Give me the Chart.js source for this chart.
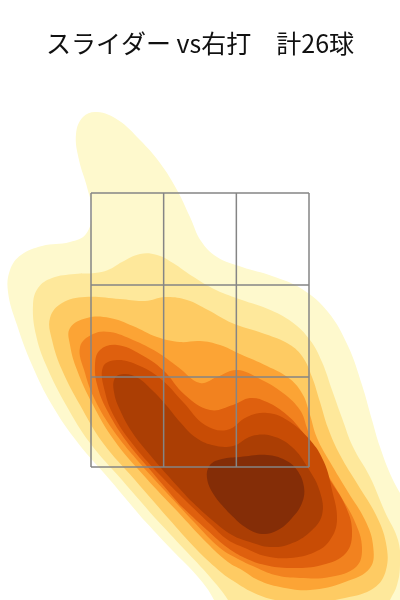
<!DOCTYPE html>
<html lang="ja">
<head>
<meta charset="utf-8">
<title>スライダー vs右打</title>
<script src="https://cdn.jsdelivr.net/npm/chart.js@4.4.1/dist/chart.umd.min.js"></script>
<style>
  html, body { margin: 0; padding: 0; background: #ffffff; }
  #wrap { width: 400px; height: 600px; }
</style>
</head>
<body>
<div id="wrap"><canvas id="kde" width="400" height="600"></canvas></div>
<script>
// ============================================
// DATA  (cm: x = from plate centre, y = height)
// ============================================

const chartTitle = 'スライダー vs右打　計26球';

// strike zone, split 3 x 3
const zoneX = [-21.8, -7.27, 7.27, 21.8];
const zoneY = [45, 63, 81.4, 99.8];

// density bands, light -> dark (YlOrBr)
const levelColors = ['#fef9cd', '#fee89b', '#fecb63', '#fca435', '#f2821f',
                     '#df600e', '#c84c05', '#ab3e04', '#842d07'];

// contour outlines, one closed ring per band
const level1 = [[-11.6,34.8],[-18,42.4],[-24.4,49.8],[-29.6,57.4],[-33.6,65.4],[-36.6,73.4],
  [-38.4,80],[-38,84.4],[-35.8,87.4],[-31.6,89.2],[-26,90],[-22.8,91.6],[-21.6,96],[-22.6,101],
  [-24.2,106.4],[-24.8,111.6],[-23.4,115],[-20.6,116],[-16.4,114.4],[-12,110.4],[-8,105.8],
  [-4.6,100.4],[-2,95],[0.2,90.2],[3.4,87],[8.4,85],[14.4,83.2],[20.4,80.6],[25.6,76],
  [29.6,69.2],[32.4,61.4],[34.4,54.4],[36,49],[38.4,42.8],[40.8,38.4],[45,30.4],[46,10.4],
  [6,10.4],[2.8,18.4],[-0.4,23],[-5.6,28.4]];

const level2 = [[-9,34.8],[-15.6,42.4],[-22,49.8],[-26.8,57.4],[-30.8,65.4],[-32.8,71.4],
  [-33.4,77.4],[-32.4,80.8],[-29.6,82.8],[-25,83.6],[-21,83.8],[-18.4,84.4],[-15.6,86],
  [-12,87.6],[-8.6,87.4],[-5.4,85.8],[-1.6,83.2],[3.2,80.4],[8.4,78.4],[13.6,76.6],[18.4,74],
  [22,70.4],[24.4,66],[26.4,60.4],[28.4,54.8],[30.6,49],[34,43],[37,36],[39.6,30.4],[40,25.4],
  [39.4,21.4],[38,18.4],[36,14.4],[10,10.4],[5.6,18.4],[2,23],[-3,28.4]];

const level3 = [[-6.4,34.8],[-13,42.4],[-19.4,49.8],[-24,57.4],[-27.6,64.4],[-29.6,70.4],
  [-30,74.8],[-27.6,77.8],[-23,79],[-16,78.6],[-11,78.2],[-7,79],[-2.6,78.4],[1.6,76.4],
  [6.4,73.8],[12.4,71.8],[17.4,69.8],[20.4,67.2],[22.4,63],[24,58],[25.6,52.8],[28,47.4],
  [31.6,41.4],[35.2,35.4],[37.2,29.8],[37.2,24.4],[34.8,20.8],[29,18.8],[21,17.8],[15,18.4],
  [10.4,20],[7,22],[4.4,23.8],[-0.6,28.4]];

const level4 = [[-4.4,36],[-10.8,42.8],[-17.2,50.4],[-21.6,57.8],[-24.6,64.4],[-26,69.4],
  [-26,72.8],[-22.6,74.8],[-18,74.8],[-13.4,73.2],[-8.6,71],[-4,70],[0,70.2],[4,69.4],
  [8,67.6],[13.4,65.2],[18,62.6],[20.6,59.4],[22,55.4],[23.4,50.8],[26,46],[29.6,40],
  [33,34.4],[34.6,29.4],[34,24.8],[29,22],[22,20.4],[16,21],[11.6,22.4],[8.4,24.4],
  [5.6,26],[1.4,29.8]];

const level5 = [[-6.8,40],[-12.6,46.4],[-17.4,52.4],[-21,58.4],[-23,63.8],[-24,69],
  [-21.4,71.6],[-18,72],[-13.4,70.4],[-8.6,68],[-4.4,65],[0,61.8],[3.4,63],[7.4,64.4],
  [12,62.6],[16.6,59.8],[20,56.4],[21.4,52.8],[22.6,48.8],[25,44.4],[28,39.4],[31,34],
  [32.4,28.8],[31.2,25],[26,23],[20,22.8],[15,23.4],[11,25],[8,26.4],[4,28.8],[-1,33.8]];

const level6 = [[-4,37.4],[-9.6,44],[-14.6,50],[-18.4,56],[-20.4,60.8],[-21,65.4],
  [-20,68.4],[-16.6,69.4],[-12,67.6],[-7.4,64.4],[-3,59.4],[2,56.4],[6.6,57.4],[10,58.8],
  [13.4,58],[17.4,55.4],[20.6,51.8],[23,47.4],[26,42.4],[29,37.4],[30.4,32.4],[29.2,27.8],
  [24.4,25.4],[18,24.8],[13,25.4],[9,26.8],[5.6,28.8],[1.4,32.4]];

const level7 = [[-3,38.4],[-8,43.4],[-13,49],[-17,54.8],[-19,60],[-19.4,65],[-16.6,66.4],
  [-12,65.2],[-7.6,62.4],[-3.4,58],[1,53.4],[5.4,52.4],[9.4,55],[13.4,55.8],[17.4,54.4],
  [22,50.4],[24.8,46],[26.4,40.4],[27.4,34.4],[26,30.4],[23,28],[18,26.8],[13,27.2],
  [9,28.8],[5.6,30.4],[2,33.6]];

const level8 = [[-2,38.4],[-6,42.8],[-10,47.4],[-13.6,52],[-16,56.4],[-17.2,60],[-17,62.8],
  [-15,63.6],[-12.4,62.8],[-9.6,60.4],[-6.8,57.4],[-4,54],[-1,51],[2.4,49.4],[6.6,49.2],
  [10.4,51.2],[14.4,51.2],[18.4,49],[21.6,44.8],[24,40],[24.4,35.4],[22,32],[18,29.6],
  [14,29],[10,30],[6.4,31.4],[2.4,34.4]];

const level9 = [[5.6,36],[2.8,39.4],[1.4,42.8],[2,45.4],[4.4,46.6],[8,47],[13.4,47.4],
  [17,46.4],[19.4,44.4],[20.8,41],[20.4,37.8],[18.4,34.8],[15.6,32.4],[12.4,31.6],[9,33]];

const levels = [level1, level2, level3, level4, level5, level6, level7, level8, level9];


// ============================================
// DATASETS
// ============================================

const datasets = [];

// filled bands: light one at the bottom, darkest on top
levels.forEach((ring, i) => {
    datasets.push({
        label: 'band ' + (i + 1),
        data: ring.concat([ring[0]]).map(p => ({ x: p[0], y: p[1] })),
        showLine: true,
        tension: 0.4,
        capBezierPoints: false,
        borderWidth: 0,
        pointRadius: 0,
        backgroundColor: levelColors[i],
        shapeFill: true,
        order: 20 - i
    });
});

// strike zone grid on top
const gridColor = '#858585';
zoneX.forEach(x => {
    datasets.push({
        data: [{ x: x, y: zoneY[0] }, { x: x, y: zoneY[3] }],
        showLine: true, borderColor: gridColor, borderWidth: 1.5, pointRadius: 0, order: 0
    });
});
zoneY.forEach(y => {
    datasets.push({
        data: [{ x: zoneX[0], y: y }, { x: zoneX[3], y: y }],
        showLine: true, borderColor: gridColor, borderWidth: 1.5, pointRadius: 0, order: 0
    });
});

// fills the inside of a closed line (uses the line element's own path)
const shapeFill = {
    id: 'shapeFill',
    beforeDatasetDraw(chart, args) {
        const ds = chart.data.datasets[args.index];
        const line = args.meta.dataset;
        if (!ds.shapeFill || !line) return;
        const { ctx, chartArea } = chart;
        line.updateControlPoints(chartArea, 'x');
        ctx.save();
        ctx.beginPath();
        ctx.rect(chartArea.left, chartArea.top, chartArea.width, chartArea.height);
        ctx.clip();
        ctx.beginPath();
        line.path(ctx);
        ctx.closePath();
        ctx.fillStyle = ds.backgroundColor;
        ctx.fill();
        ctx.restore();
    }
};


// ============================================
// CHART
// ============================================

const ctx = document.getElementById('kde').getContext('2d');

const kdeChart = new Chart(ctx, {
    type: 'scatter',
    data: { datasets: datasets },
    options: {
        responsive: false,
        devicePixelRatio: 1,
        animation: false,
        events: [],
        layout: { padding: 0 },
        plugins: {
            legend: { display: false },
            tooltip: { enabled: false },
            title: {
                display: true,
                text: chartTitle,
                color: '#111111',
                font: { family: "'Noto Sans CJK JP', sans-serif", size: 25, weight: 'normal' },
                padding: { top: 28, bottom: 22 }
            }
        },
        scales: {
            x: { type: 'linear', min: -40, max: 40, display: false },
            y: { type: 'linear', min: 18.4, max: 122.4, display: false }
        }
    },
    plugins: [shapeFill]
});
</script>
</body>
</html>
